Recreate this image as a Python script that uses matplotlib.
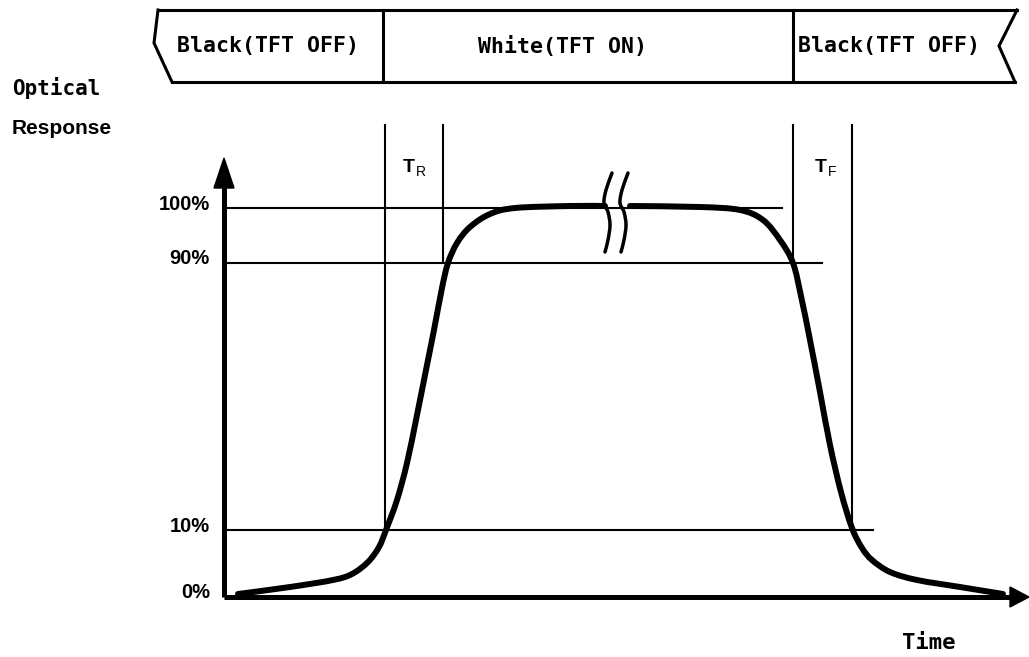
import numpy as np
import matplotlib
matplotlib.use("Agg")
import matplotlib.pyplot as plt
from matplotlib.patches import Polygon, PathPatch
from matplotlib.path import Path

# 图是示意图, 坐标直接用画布像素 (y 向下)
level_labels = ["100%", "90%", "10%", "0%"]
level_y = [208, 263, 530, 597]
level_line_end = [782, 822, 873, None]

# T_R / T_F 的竖线
guide_x = [385, 443, 793, 852]
guide_bottom = [530, 263, 263, 530]
guide_top = 125

# 顶部状态条
phase_labels = ["Black(TFT OFF)", "White(TFT ON)", "Black(TFT OFF)"]
phase_center = [268, 563, 889]
phase_divider = [383, 793]

# 光学响应曲线 (上升段 / 下降段)
rise_x = [238, 290, 333, 352, 368, 379, 386, 397, 407, 417, 427, 434, 442, 448, 457, 470, 490, 515, 570, 605]
rise_y = [594, 587, 580, 574, 562, 547, 530, 500, 463, 415, 365, 330, 288, 263, 243, 227, 214, 208, 206, 206]
fall_x = [630, 700, 740, 763, 780, 793, 801, 810, 820, 830, 841, 852, 862, 872, 890, 917, 960, 1003]
fall_y = [206, 207, 210, 220, 240, 263, 296, 340, 392, 445, 492, 528, 548, 560, 572, 580, 587, 594]

# 断开符号 (两条弧线)
brk1_x = [612, 606, 604, 608, 610, 608, 605]
brk1_y = [173, 190, 203, 212, 225, 240, 252]
brk2_x = [628, 622, 620, 624, 626, 624, 621]
brk2_y = [173, 190, 203, 212, 225, 240, 252]

mono = "DejaVu Sans Mono"
sans = "Liberation Sans"


def smooth(xs, ys):
    # Catmull-Rom 转成三次贝塞尔, 只用于画平滑的线
    pts = np.column_stack([xs, ys]).astype(float)
    verts = [pts[0]]
    codes = [Path.MOVETO]
    n = len(pts)
    for i in range(n - 1):
        p0 = pts[i - 1] if i > 0 else pts[i]
        p1 = pts[i]
        p2 = pts[i + 1]
        p3 = pts[i + 2] if i + 2 < n else pts[i + 1]
        verts += [p1 + (p2 - p0) / 6, p2 - (p3 - p1) / 6, p2]
        codes += [Path.CURVE4] * 3
    return Path(verts, codes)


fig = plt.figure(figsize=(10.29, 6.57), dpi=100)
ax = fig.add_axes([0, 0, 1, 1])
ax.set_xlim(0, 1029)
ax.set_ylim(657, 0)
ax.axis("off")

# 状态条
top_y, bot_y = 10, 82
ax.plot([158, 154, 172], [top_y, 43, bot_y], color="black", lw=2.2, solid_joinstyle="miter")
ax.plot([1017, 999, 1015], [top_y, 46, bot_y], color="black", lw=2.2, solid_joinstyle="miter")
ax.plot([158, 1017], [top_y, top_y], color="black", lw=2.2)
ax.plot([172, 1015], [bot_y, bot_y], color="black", lw=2.2)
for xd in phase_divider:
    ax.plot([xd, xd], [top_y, bot_y], color="black", lw=2.2)
for lab, xc in zip(phase_labels, phase_center):
    ax.text(xc, 46, lab, ha="center", va="center", fontsize=15.5, family=mono, weight="bold")

# 左侧标题
ax.text(12, 88, "Optical", ha="left", va="center", fontsize=15, family=mono, weight="bold")
ax.text(12, 128, "Response", ha="left", va="center", fontsize=15, family=sans, weight="bold")
ax.text(929, 643, "Time", ha="center", va="center", fontsize=16, family=mono, weight="bold")

# 水平参考线与刻度文字
for lab, yy, xe in zip(level_labels, level_y, level_line_end):
    if xe is not None:
        ax.plot([224, xe], [yy, yy], color="black", lw=1.5)
    ax.text(210, yy - 4, lab, ha="right", va="center", fontsize=14.5, family=sans, weight="bold")

# 竖线
for xg, yb in zip(guide_x, guide_bottom):
    ax.plot([xg, xg], [guide_top, yb], color="black", lw=1.5)

# T_R, T_F
ax.text(403, 168, "T", ha="left", va="center", fontsize=14, family=sans, weight="bold")
ax.text(416, 172, "R", ha="left", va="center", fontsize=10, family=sans)
ax.text(815, 168, "T", ha="left", va="center", fontsize=14, family=sans, weight="bold")
ax.text(828, 172, "F", ha="left", va="center", fontsize=10, family=sans)

# 坐标轴与箭头
ax.plot([224, 224], [597, 185], color="black", lw=3.6, solid_capstyle="butt")
ax.plot([224, 1012], [597, 597], color="black", lw=3.6, solid_capstyle="butt")
ax.add_patch(Polygon([[224, 158], [214, 188], [234, 188]], closed=True, color="black"))
ax.add_patch(Polygon([[1029, 597], [1010, 587], [1010, 607]], closed=True, color="black"))

# 曲线
for xs, ys in [(rise_x, rise_y), (fall_x, fall_y)]:
    ax.add_patch(PathPatch(smooth(xs, ys), fill=False, edgecolor="black", lw=4.3,
                           capstyle="round", joinstyle="round"))
for xs, ys in [(brk1_x, brk1_y), (brk2_x, brk2_y)]:
    ax.add_patch(PathPatch(smooth(xs, ys), fill=False, edgecolor="black", lw=2.5,
                           capstyle="round", joinstyle="round"))

fig.savefig("out.png", dpi=100)
